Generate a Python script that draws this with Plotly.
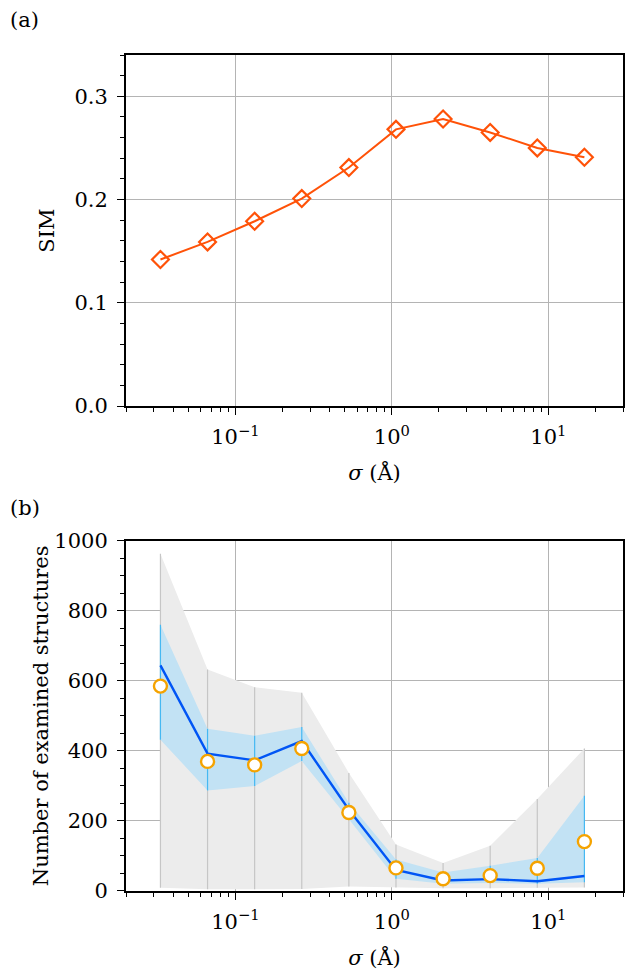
import plotly.graph_objects as go
from plotly.subplots import make_subplots

# Smoothing width sigma (Å), halved at each step
sigma = [0.0332, 0.0664, 0.1328, 0.2656, 0.53125, 1.0625, 2.125, 4.25, 8.5, 17.0]

# (a) similarity score
sim = [0.142, 0.159, 0.179, 0.201, 0.231, 0.268, 0.278, 0.265, 0.250, 0.241]

# (b) number of examined structures
count_min = [9, 5, 5, 6, 13, 10, 8, 8, 9, 10]
count_max = [963, 632, 582, 566, 337, 133, 80, 129, 263, 407]
count_lo = [432, 287, 300, 371, 205, 35, 21, 23, 21, 25]
count_hi = [760, 463, 443, 468, 252, 90, 53, 72, 94, 272]
count_mean = [644, 392, 373, 428, 232, 60, 30, 34, 28, 43]
count_median = [585, 370, 360, 407, 224, 66, 35, 44, 65, 141]

FONT = "DejaVu Serif"
FS = 21
GRID = "#b4b4b4"

fig = make_subplots(rows=2, cols=1, vertical_spacing=0.0)


def vlines(xs, lo, hi):
    vx, vy = [], []
    for x, a, b in zip(xs, lo, hi):
        vx += [x, x, None]
        vy += [a, b, None]
    return vx, vy


# ---- panel (a)
fig.add_trace(go.Scatter(
    x=sigma, y=sim, mode="lines+markers",
    line=dict(color="#ff5208", width=2),
    marker=dict(symbol="diamond-open", size=13, color="#ff5208",
                line=dict(width=2.2, color="#ff5208")),
    showlegend=False), row=1, col=1)

# ---- panel (b): full range band
fig.add_trace(go.Scatter(x=sigma, y=count_min, mode="lines", line=dict(width=0),
                         showlegend=False, hoverinfo="skip"), row=2, col=1)
fig.add_trace(go.Scatter(x=sigma, y=count_max, mode="lines", line=dict(width=0),
                         fill="tonexty", fillcolor="#ececec",
                         showlegend=False, hoverinfo="skip"), row=2, col=1)
gx, gy = vlines(sigma, count_min, count_max)
fig.add_trace(go.Scatter(x=gx, y=gy, mode="lines", line=dict(color="#c6c6c6", width=1.2),
                         showlegend=False, hoverinfo="skip"), row=2, col=1)

# inner band
fig.add_trace(go.Scatter(x=sigma, y=count_lo, mode="lines", line=dict(width=0),
                         showlegend=False, hoverinfo="skip"), row=2, col=1)
fig.add_trace(go.Scatter(x=sigma, y=count_hi, mode="lines", line=dict(width=0),
                         fill="tonexty", fillcolor="#c2e2f4",
                         showlegend=False, hoverinfo="skip"), row=2, col=1)
bx, by = vlines(sigma, count_lo, count_hi)
fig.add_trace(go.Scatter(x=bx, y=by, mode="lines", line=dict(color="#45b8f2", width=1.2),
                         showlegend=False, hoverinfo="skip"), row=2, col=1)

fig.add_trace(go.Scatter(x=sigma, y=count_mean, mode="lines",
                         line=dict(color="#0055f5", width=2.4),
                         showlegend=False), row=2, col=1)
fig.add_trace(go.Scatter(x=sigma, y=count_median, mode="markers",
                         marker=dict(symbol="circle", size=13, color="white",
                                     line=dict(width=2.4, color="#f5a300")),
                         showlegend=False), row=2, col=1)

minor_x = [m * 10 ** e for e in (-2, -1, 0, 1) for m in range(2, 10) if 0.02 <= m * 10 ** e <= 30]

xaxis_common = dict(
    type="log", range=[-1.69897, 1.47712],
    tickvals=[0.1, 1, 10],
    ticktext=["10<sup>\u22121</sup>", "10<sup>0</sup>", "10<sup>1</sup>"],
    ticks="outside", ticklen=7, tickwidth=1.3, tickcolor="black",
    ticklabelstandoff=4,
    showline=True, linecolor="black", linewidth=2, mirror=True,
    showgrid=True, gridcolor=GRID, gridwidth=1, zeroline=False,
    minor=dict(tickmode="array", tickvals=minor_x, ticks="outside", ticklen=4,
               tickwidth=1, tickcolor="black", showgrid=False),
    title=dict(text="<i>\u03c3</i> (\u00c5)", font=dict(size=FS, family=FONT), standoff=17),
    tickfont=dict(size=FS, family=FONT, color="black"),
)
fig.update_xaxes(**xaxis_common, row=1, col=1)
fig.update_xaxes(**xaxis_common, row=2, col=1)

yaxis_common = dict(
    ticks="outside", ticklen=7, tickwidth=1.3, tickcolor="black",
    ticklabelstandoff=5,
    showline=True, linecolor="black", linewidth=2, mirror=True,
    showgrid=True, gridcolor=GRID, gridwidth=1, zeroline=False,
    tickfont=dict(size=FS, family=FONT, color="black"),
)
fig.update_yaxes(**yaxis_common, range=[0, 0.34], tickvals=[0.0, 0.1, 0.2, 0.3],
                 ticktext=["0.0", "0.1", "0.2", "0.3"],
                 minor=dict(dtick=0.02, tick0=0, ticks="outside", ticklen=4, tickwidth=1,
                            tickcolor="black", showgrid=False),
                 title=dict(text="SIM", font=dict(size=FS, family=FONT), standoff=14),
                 row=1, col=1)
fig.update_yaxes(**yaxis_common, range=[0, 1000], tickvals=[0, 200, 400, 600, 800, 1000],
                 minor=dict(dtick=50, tick0=0, ticks="outside", ticklen=4, tickwidth=1,
                            tickcolor="black", showgrid=False),
                 title=dict(text="Number of examined structures", font=dict(size=FS, family=FONT),
                            standoff=0),
                 row=2, col=1)

fig.update_layout(
    width=626, height=973,
    margin=dict(l=126, r=1, t=55, b=82),
    paper_bgcolor="white", plot_bgcolor="white",
    font=dict(family=FONT, color="black", size=FS),
    yaxis=dict(domain=[0.580, 1.0]),
    yaxis2=dict(domain=[0.0, 0.419]),
    annotations=[
        dict(text="(a)", x=-118 / 499, y=1 + 35 / 836, xref="paper", yref="paper",
             xanchor="left", yanchor="middle", showarrow=False,
             font=dict(size=FS, family=FONT)),
        dict(text="(b)", x=-118 / 499, y=(973 - 82 - 508) / 836, xref="paper", yref="paper",
             xanchor="left", yanchor="middle", showarrow=False,
             font=dict(size=FS, family=FONT)),
    ],
)

fig.write_html("out.html")
